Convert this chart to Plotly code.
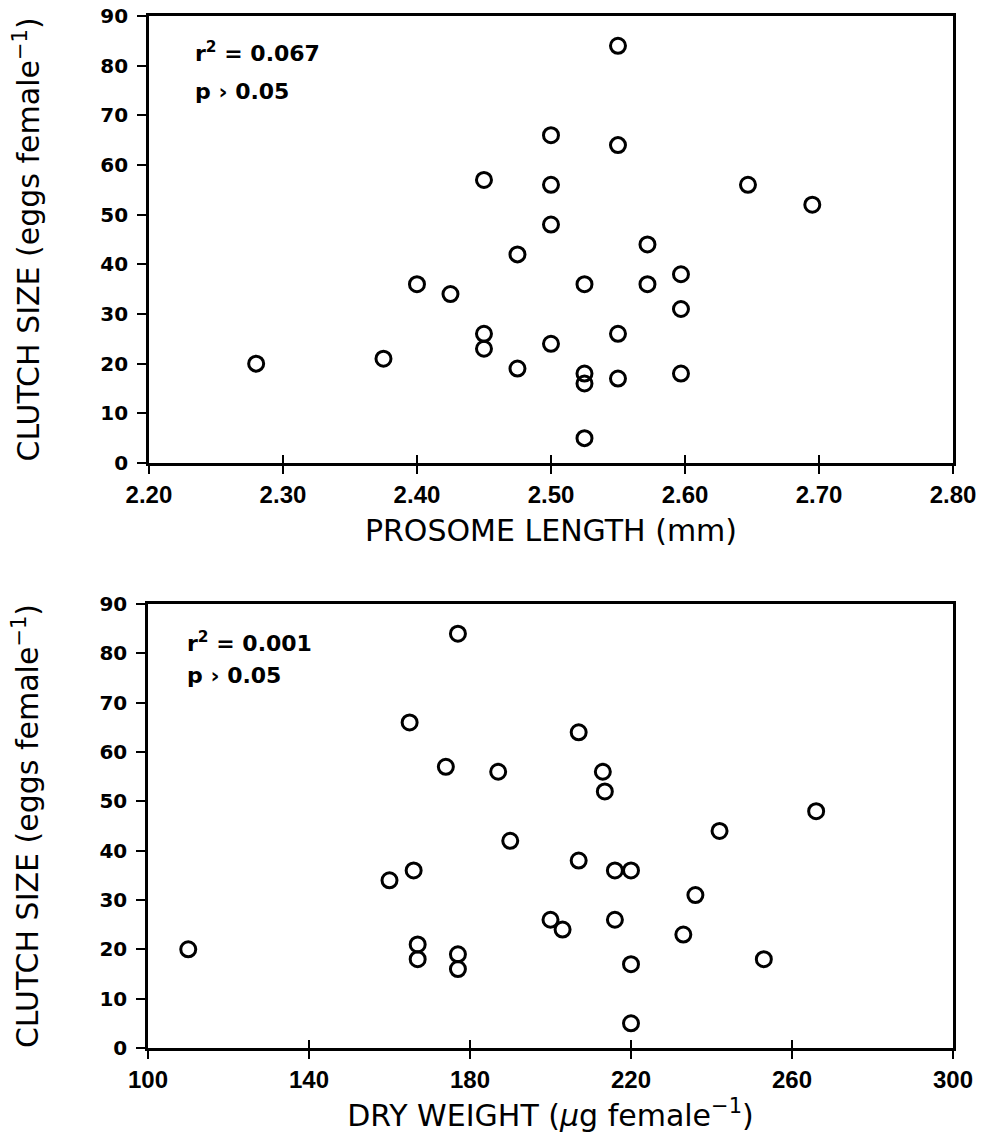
import plotly.graph_objects as go

# Top panel: prosome length (mm) vs clutch size
prosome_length = [2.28, 2.375, 2.40, 2.425, 2.45, 2.45, 2.45, 2.475, 2.475,
                  2.50, 2.50, 2.50, 2.50, 2.525, 2.525, 2.525, 2.525,
                  2.55, 2.55, 2.55, 2.55, 2.572, 2.572, 2.597, 2.597, 2.597,
                  2.647, 2.695]
clutch_top = [20, 21, 36, 34, 57, 26, 23, 42, 19,
              66, 56, 48, 24, 36, 18, 16, 5,
              84, 64, 26, 17, 44, 36, 38, 31, 18,
              56, 52]

# Bottom panel: dry weight (ug female-1) vs clutch size
dry_weight = [110, 160, 165, 166, 167, 167, 174, 177, 177, 177, 187, 190,
              200, 203, 207, 207, 213, 213.5, 216, 216, 220, 220, 220,
              233, 236, 242, 253, 266]
clutch_bottom = [20, 34, 66, 36, 21, 18, 57, 84, 19, 16, 56, 42,
                 26, 24, 64, 38, 56, 52, 36, 26, 36, 17, 5,
                 23, 31, 44, 18, 48]

x_ticks_top = [2.20, 2.30, 2.40, 2.50, 2.60, 2.70, 2.80]
x_ticklabels_top = ["2.20", "2.30", "2.40", "2.50", "2.60", "2.70", "2.80"]
x_ticks_bottom = [100, 140, 180, 220, 260, 300]
y_ticks = [0, 10, 20, 30, 40, 50, 60, 70, 80, 90]

stats_top = ["r<sup>2</sup> = 0.067", "p \u203a 0.05"]
stats_bottom = ["r<sup>2</sup> = 0.001", "p \u203a 0.05"]

XTICKFONT = dict(family="Liberation Sans", size=24, color="black", weight="bold")
YTICKFONT = dict(family="DejaVu Sans", size=20, color="black", weight="bold")
TITLEFONT = dict(family="DejaVu Sans", size=30, color="black")
ANNFONT = dict(family="DejaVu Sans", size=22, color="black", weight="bold")

marker = dict(symbol="circle-open", size=15, color="black", line=dict(width=3, color="black"))

fig = go.Figure()
fig.add_trace(go.Scatter(x=prosome_length, y=clutch_top, mode="markers",
                         marker=marker, xaxis="x", yaxis="y", showlegend=False))
fig.add_trace(go.Scatter(x=dry_weight, y=clutch_bottom, mode="markers",
                         marker=marker, xaxis="x2", yaxis="y2", showlegend=False))
# empty traces so the inside-tick overlay axes are drawn
fig.add_trace(go.Scatter(x=[], y=[], xaxis="x3", yaxis="y", showlegend=False, hoverinfo="skip"))
fig.add_trace(go.Scatter(x=[], y=[], xaxis="x4", yaxis="y2", showlegend=False, hoverinfo="skip"))

common_axis = dict(showgrid=False, zeroline=False, showline=True, linecolor="black",
                   linewidth=2.5, mirror=True, ticks="outside", ticklen=8,
                   tickwidth=2, tickcolor="black", automargin=False)
xcommon = dict(common_axis, tickfont=XTICKFONT, ticklabelstandoff=0)
ycommon = dict(common_axis, tickfont=YTICKFONT, ticklen=9, ticklabelstandoff=5)

# plot area: left 148, right 953, top 16, bottom 1048 (px)
fig.update_layout(
    width=982, height=1140,
    margin=dict(l=148, r=29, t=16, b=92),
    paper_bgcolor="white", plot_bgcolor="white",
    xaxis=dict(xcommon, domain=[0.0012, 1.0], anchor="y", range=[2.2, 2.8],
               tickvals=x_ticks_top, ticktext=x_ticklabels_top,
               title=dict(text="PROSOME LENGTH (mm)", font=TITLEFONT, standoff=14)),
    yaxis=dict(ycommon, domain=[0.5669, 1.0], anchor="x", range=[0, 90],
               tickvals=y_ticks,
               title=dict(text="CLUTCH SIZE (eggs female<sup>\u22121</sup>)",
                          font=TITLEFONT, standoff=52)),
    xaxis2=dict(xcommon, domain=[0.0, 1.0], anchor="y2", range=[100, 300],
                tickvals=x_ticks_bottom,
                title=dict(text="DRY WEIGHT (<i>\u03bc</i>g female<sup>\u22121</sup>)",
                           font=TITLEFONT, standoff=14)),
    yaxis2=dict(ycommon, domain=[0.0, 0.4302], anchor="x2", range=[0, 90],
                tickvals=y_ticks,
                title=dict(text="CLUTCH SIZE (eggs female<sup>\u22121</sup>)",
                           font=TITLEFONT, standoff=52)),
    # inside ticks so x ticks cross the axis line
    xaxis3=dict(overlaying="x", matches="x", anchor="y", showgrid=False, zeroline=False,
                showline=False, ticks="inside", ticklen=8, tickwidth=2, tickcolor="black",
                tickvals=x_ticks_top, showticklabels=False, automargin=False),
    xaxis4=dict(overlaying="x2", matches="x2", anchor="y2", showgrid=False, zeroline=False,
                showline=False, ticks="inside", ticklen=8, tickwidth=2, tickcolor="black",
                tickvals=x_ticks_bottom, showticklabels=False, automargin=False),
)

ann = []
for text, yy in zip(stats_top, [0.9651, 0.9264]):
    ann.append(dict(text=text, x=0.0559, y=yy, xref="paper", yref="paper",
                    xanchor="left", yanchor="middle", showarrow=False, font=ANNFONT))
for text, yy in zip(stats_bottom, [0.3934, 0.3605]):
    ann.append(dict(text=text, x=0.0460, y=yy, xref="paper", yref="paper",
                    xanchor="left", yanchor="middle", showarrow=False, font=ANNFONT))
fig.update_layout(annotations=ann)

fig.write_html("out.html", config={"displayModeBar": False},
               post_script="document.body.style.margin='0';document.body.style.overflow='hidden';")
